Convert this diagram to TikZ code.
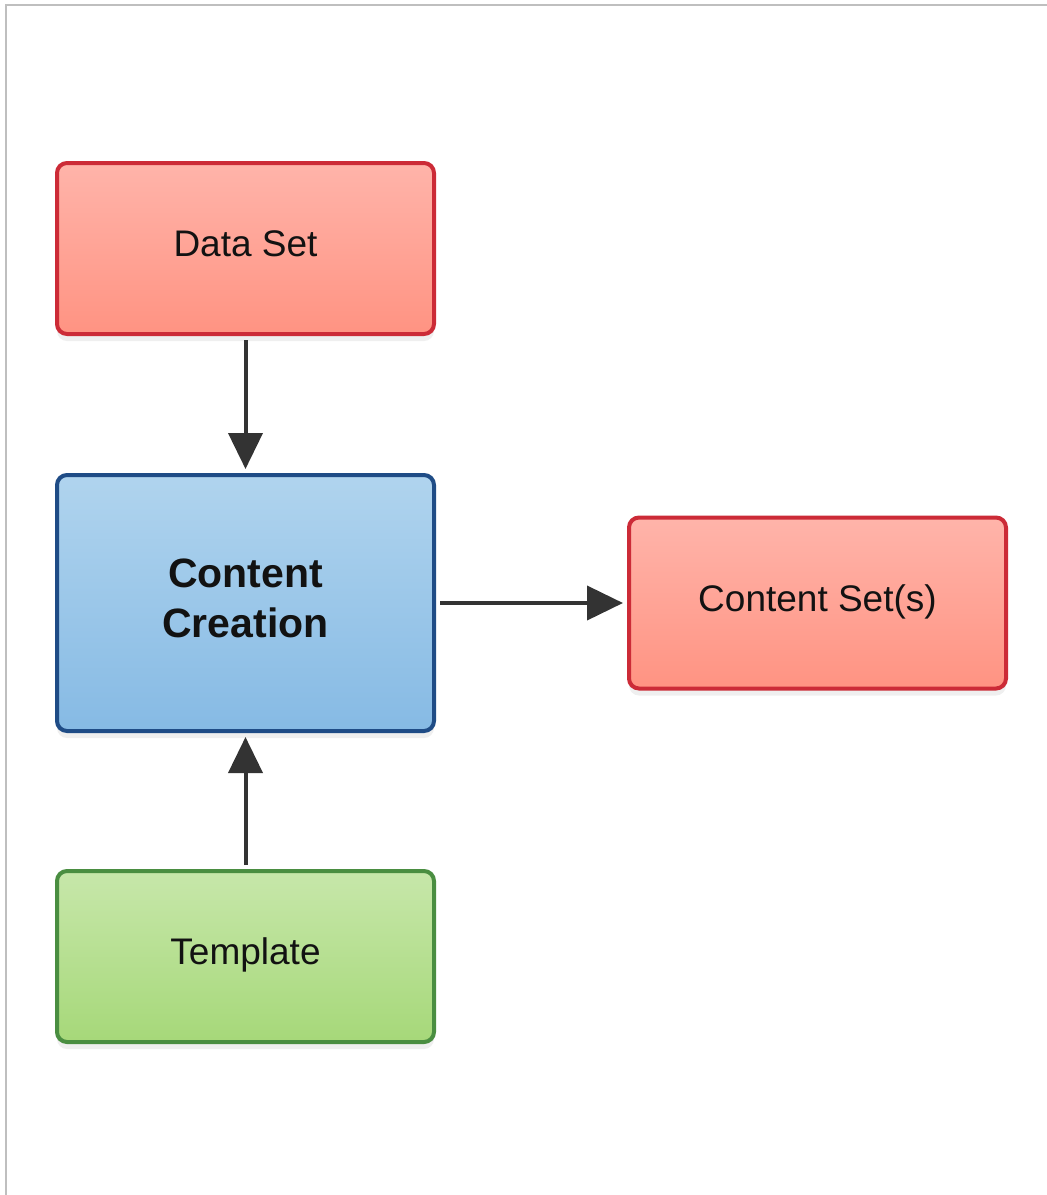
\documentclass[tikz,border=0pt]{standalone}
\usepackage{fontspec}
\setmainfont{Liberation Sans}
\usetikzlibrary{shadows,arrows.meta}
\definecolor{redtop}{HTML}{FFB4AA}
\definecolor{redbot}{HTML}{FF9382}
\definecolor{redline}{HTML}{CC2B37}
\definecolor{bluetop}{HTML}{B0D4EE}
\definecolor{bluebot}{HTML}{86BAE4}
\definecolor{blueline}{HTML}{1F4C86}
\definecolor{greentop}{HTML}{C7E7AA}
\definecolor{greenbot}{HTML}{A6D879}
\definecolor{greenline}{HTML}{4A8E41}
\definecolor{arrowgray}{HTML}{333333}
\definecolor{framegray}{HTML}{BFBFBF}
\begin{document}
\begin{tikzpicture}[x=1pt, y=-1pt,
  box/.style={rectangle, rounded corners=10pt, line width=4pt, minimum width=377pt,
    minimum height=171pt, inner sep=0pt, align=center, text=black!93, text depth=10pt,
    font=\fontsize{37}{44}\selectfont,
    drop shadow={opacity=0.13, shadow xshift=0pt, shadow yshift=-7pt}},
  redbox/.style={box, draw=redline, top color=redtop, bottom color=redbot},
  bluebox/.style={box, draw=blueline, top color=bluetop, bottom color=bluebot},
  greenbox/.style={box, draw=greenline, top color=greentop, bottom color=greenbot},
  link/.style={draw=arrowgray, line width=4pt, -{Triangle[length=36pt, width=34pt]}, shorten >=4pt, shorten <=4pt}]
\useasboundingbox (0,0) rectangle (1047,1195);
\coordinate (f0) at (6,1195);
\coordinate (f1) at (6,5);
\coordinate (f2) at (1047,5);
\draw[framegray, line width=2pt] (f0) -- (f1) -- (f2);
\node[redbox] (box0) at (245.5,248.5){Data Set};
\node[bluebox, minimum height=256pt, font=\fontsize{41}{50}\selectfont\bfseries] (box1) at (245.5,603){Content\\Creation};
\node[redbox] (box2) at (817.5,603){Content Set(s)};
\node[greenbox] (box3) at (245.5,956.5){Template};
\draw[link] (box0) -- (box1);
\draw[link] (box1) -- (box2);
\draw[link] (box3) -- (box1);
\end{tikzpicture}
\end{document}
